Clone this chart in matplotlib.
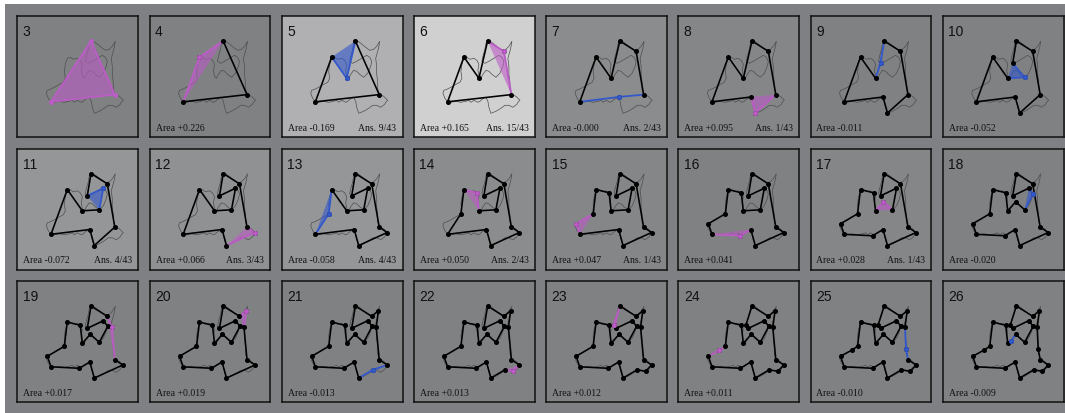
import math
import matplotlib
matplotlib.use('Agg')
import matplotlib.pyplot as plt
from matplotlib.patches import Polygon

W, H = 1065, 414

# vertices of the final ring, in ring order, with the step at which each is inserted
vx = [33.7, 30.0, 41.0, 47.0, 50.0, 63.0, 65.0, 68.5, 73.0, 82.0, 90.5, 86.0, 70.0,
      67.5, 73.7, 90.0, 96.7, 94.5, 95.5, 97.5, 105.5, 99.5, 91.0, 77.0, 72.5, 62.0]
vy = [85.5, 75.0, 69.0, 65.0, 40.7, 44.0, 62.0, 59.5, 53.0, 61.0, 45.0, 39.5, 47.0,
      44.0, 24.7, 35.0, 29.5, 46.0, 68.0, 78.3, 83.7, 90.0, 88.5, 96.7, 80.7, 87.0]
step = [3, 15, 24, 13, 4, 14, 5, 26, 17, 10, 18, 11, 9,
        23, 3, 6, 20, 19, 25, 3, 12, 22, 21, 8, 7, 16]

# original traced outline drawn faintly behind every ring
outline_x = [34, 31, 29, 30, 33, 37, 42, 46, 48, 47, 48, 50, 53, 56, 60, 63, 65, 64, 65, 67,
             69, 72, 75, 78, 82, 86, 89, 90, 88, 85, 80, 75, 71, 68, 69, 71, 72, 75, 79,
             84, 88, 92, 95, 98, 97, 96, 94, 95, 95, 96, 96, 98, 102, 106, 104, 103, 99, 95,
             91, 87, 82, 77, 75, 74, 72, 68, 66, 64, 60, 57, 55, 52, 47, 42, 37]
outline_y = [86, 82, 77, 74, 73, 71, 68, 66, 62, 55, 48, 42, 41, 43, 42, 44, 48, 54, 60, 62,
             58, 54, 55, 58, 61, 57, 50, 45, 41, 39, 42, 45, 47, 45, 40, 33, 27, 24, 27,
             31, 34, 33, 30, 25, 31, 35, 42, 50, 58, 66, 73, 78, 80, 84, 86, 88, 91, 89,
             89, 92, 95, 97, 91, 85, 81, 83, 85, 86, 84, 86, 84, 85, 86, 85, 86]

panel_ids = list(range(3, 27))
area = [None, 0.226, -0.169, 0.165, -0.0, 0.095, -0.011, -0.052,
        -0.072, 0.066, -0.058, 0.050, 0.047, 0.041, 0.028, -0.020,
        0.017, 0.019, -0.013, 0.013, 0.012, 0.011, -0.010, -0.009]
ans = [0, 0, 9, 15, 2, 1, 0, 0,
       4, 3, 4, 2, 1, 0, 1, 0,
       0, 0, 0, 0, 0, 0, 0, 0]
total = 43

PINK = '#bc5cc6'
BLUE = '#3358cc'
base = (128, 129, 131)

fig = plt.figure(figsize=(W / 100, H / 100), dpi=100)
fig.patch.set_facecolor('white')

back = fig.add_axes([5 / W, 0, 1 - 5 / W, 1 - 5 / H], zorder=-1)
back.set_facecolor('#7f8084')
back.set_xticks([])
back.set_yticks([])
for sp in back.spines.values():
    sp.set_visible(False)

for i, n in enumerate(panel_ids):
    r, c = divmod(i, 8)
    x0 = 17.3 + 132.2 * c
    y0 = 17.3 + 132.5 * r
    ax = fig.add_axes([x0 / W, 1 - (y0 + 121) / H, 121 / W, 121 / H])
    t = min(1.0, 1.8 * ans[i] / total)
    bg = tuple((b + (255 - b) * t) / 255 for b in base)
    ax.set_facecolor(bg)
    ax.set_xlim(0, 121)
    ax.set_ylim(121, 0)
    ax.set_xticks([])
    ax.set_yticks([])
    for sp in ax.spines.values():
        sp.set_linewidth(1.1)
        sp.set_color('#111111')

    ax.plot(outline_x + outline_x[:1], outline_y + outline_y[:1],
            color='#4e4e50', lw=0.5, zorder=1)

    ring = [k for k in range(len(vx)) if step[k] <= n]
    pts = [(vx[k], vy[k]) for k in ring]
    m = len(pts)

    if area[i] is None:
        ax.add_patch(Polygon(pts, closed=True, facecolor=PINK, alpha=0.6,
                             edgecolor='none', zorder=2))
        xs = [p[0] for p in pts] + [pts[0][0]]
        ys = [p[1] for p in pts] + [pts[0][1]]
        ax.plot(xs, ys, color=PINK, lw=1.3, zorder=3)
        ax.plot(xs[:-1], ys[:-1], 'o', color=PINK, ms=2.6, zorder=5)
    else:
        col = PINK if math.copysign(1, area[i]) > 0 else BLUE
        j = [step[k] for k in ring].index(n)
        prev, new, nxt = pts[j - 1], pts[j], pts[(j + 1) % m]
        # rest of the ring, from the next vertex round to the previous one
        rest = [pts[(j + 1 + s) % m] for s in range(m - 1)]
        ax.plot([p[0] for p in rest], [p[1] for p in rest], color='black',
                lw=1.15, zorder=3, solid_joinstyle='round')
        ax.add_patch(Polygon([prev, new, nxt], closed=True, facecolor=col,
                             alpha=0.6, edgecolor='none', zorder=2))
        ax.plot([prev[0], new[0], nxt[0]], [prev[1], new[1], nxt[1]],
                color=col, lw=1.3, zorder=4)
        ax.plot([p[0] for p in pts], [p[1] for p in pts], 'o', color='black',
                ms=2.6, zorder=5)
        ax.plot([new[0]], [new[1]], 'o', color=col, ms=2.6, zorder=6)

        ax.text(6, 113.5, 'Area %+.3f' % area[i], fontsize=7,
                family='Liberation Serif', color='#111111', va='baseline')
        if ans[i]:
            ax.text(114.5, 113.5, 'Ans. %d/%d' % (ans[i], total), fontsize=7,
                    family='Liberation Serif', color='#111111', va='baseline',
                    ha='right')

    ax.text(5.5, 19, str(n), fontsize=10, family='Liberation Sans',
            color='#111111', va='baseline')

fig.savefig('out.png', dpi=100, facecolor=fig.get_facecolor())
